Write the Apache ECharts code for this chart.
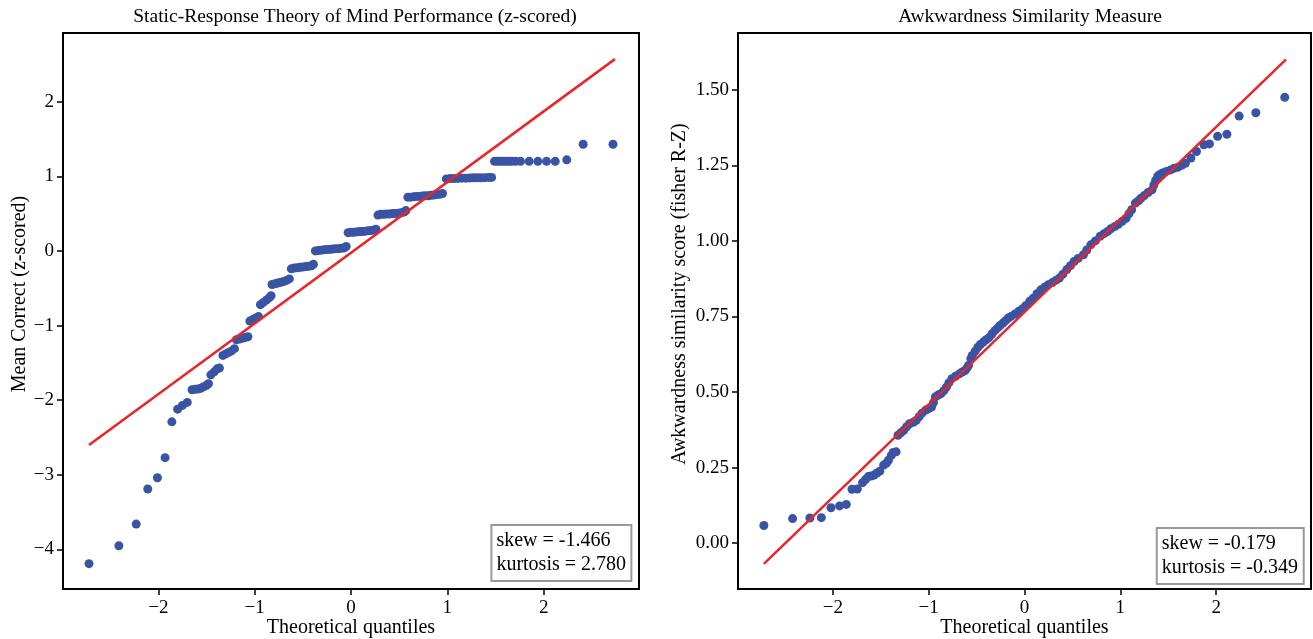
<!DOCTYPE html>
<html lang="en">
<head>
  <meta charset="UTF-8">
  <title>Q-Q plots</title>
  <style>
    body { margin: 0; background: #fff; }
    #chart { width: 1313px; height: 639px; }
  </style>
  <script src="https://cdn.jsdelivr.net/npm/echarts@6/dist/echarts.min.js"></script>
</head>
<body>
  <div id="chart"></div>
  <script>
    // Left panel: ToM z-scores (theoretical quantile, sample value)
    var tomX = [
      -2.72, -2.41, -2.23, -2.11, -2.01, -1.93, -1.86, -1.80, -1.75, -1.70,
      -1.65, -1.62, -1.59, -1.56, -1.53, -1.50, -1.48,
      -1.455, -1.42, -1.39, -1.366,
      -1.33, -1.30, -1.27, -1.24, -1.21,
      -1.19, -1.16, -1.13, -1.10, -1.07,
      -1.05, -1.02, -0.99, -0.96,
      -0.94, -0.91, -0.88, -0.85, -0.83,
      -0.82, -0.79, -0.76, -0.73, -0.70, -0.67, -0.64,
      -0.62, -0.59, -0.56, -0.53, -0.50, -0.47, -0.44, -0.41, -0.39,
      -0.37, -0.34, -0.31, -0.28, -0.25, -0.22, -0.19, -0.16, -0.13, -0.10, -0.07, -0.05,
      -0.03, 0.00, 0.03, 0.06, 0.09, 0.12, 0.15, 0.18, 0.21, 0.24, 0.26,
      0.28, 0.31, 0.34, 0.37, 0.40, 0.43, 0.46, 0.49, 0.52, 0.55, 0.57,
      0.59, 0.62, 0.65, 0.68, 0.71, 0.74, 0.77, 0.80, 0.83, 0.86, 0.89, 0.92,
      0.95, 0.99, 1.03, 1.07, 1.11, 1.15, 1.19, 1.23, 1.27, 1.31, 1.35, 1.39, 1.43,
      1.46, 1.49, 1.52, 1.55, 1.58, 1.61, 1.64, 1.67, 1.71, 1.76, 1.85, 1.94, 2.03,
      2.12, 2.24, 2.41, 2.72
    ];
    var tomY = [
      -4.19, -3.95, -3.66, -3.19, -3.04, -2.77, -2.29, -2.12, -2.07, -2.03,
      -1.86, -1.855, -1.85, -1.84, -1.82, -1.80, -1.78,
      -1.66, -1.62, -1.58, -1.57,
      -1.40, -1.38, -1.36, -1.34, -1.31,
      -1.19, -1.18, -1.17, -1.16, -1.15,
      -0.94, -0.92, -0.90, -0.88,
      -0.72, -0.69, -0.66, -0.63, -0.60,
      -0.45, -0.44, -0.43, -0.42, -0.41, -0.395, -0.375,
      -0.24, -0.23, -0.225, -0.22, -0.215, -0.21, -0.205, -0.20, -0.18,
      0.00, 0.005, 0.01, 0.015, 0.02, 0.02, 0.025, 0.03, 0.03, 0.035, 0.04, 0.06,
      0.245, 0.25, 0.25, 0.255, 0.26, 0.26, 0.265, 0.27, 0.275, 0.28, 0.29,
      0.48, 0.49, 0.49, 0.495, 0.495, 0.50, 0.50, 0.505, 0.51, 0.52, 0.54,
      0.72, 0.72, 0.725, 0.73, 0.73, 0.735, 0.74, 0.74, 0.745, 0.75, 0.755, 0.76, 0.77,
      0.965, 0.97, 0.97, 0.972, 0.975, 0.975, 0.977, 0.98, 0.98, 0.98, 0.982, 0.985, 0.985,
      1.20, 1.20, 1.20, 1.20, 1.20, 1.20, 1.20, 1.20, 1.20, 1.20, 1.20, 1.20, 1.20,
      1.22, 1.43, 1.43, 1.43
    ];
    var tomFitX = [-2.72, 2.74];
    var tomFitY = [-2.60, 2.57];

    // Right panel: awkwardness similarity (fisher R-Z)
    var awkX = [
      -2.72, -2.42, -2.24, -2.12, -2.02, -1.93, -1.86, -1.80, -1.745, -1.69,
      -1.66, -1.63, -1.60, -1.57, -1.54, -1.51, -1.47, -1.44, -1.42, -1.39,
      -1.37, -1.34, -1.32, -1.29, -1.26, -1.23, -1.20, -1.16, -1.13, -1.10,
      -1.07, -1.03, -1.00, -0.97, -0.95, -0.93, -0.90, -0.87, -0.84, -0.816,
      -0.79, -0.758, -0.72, -0.68, -0.65, -0.62, -0.60, -0.584, -0.56, -0.545,
      -0.515, -0.487, -0.46, -0.43, -0.40, -0.37, -0.34, -0.31, -0.28, -0.255,
      -0.225, -0.197, -0.17, -0.14, -0.10, -0.06, -0.023, 0.01, 0.054, 0.09,
      0.13, 0.17, 0.21, 0.248, 0.29, 0.33, 0.364, 0.40, 0.441, 0.48,
      0.518, 0.56, 0.615, 0.65, 0.692, 0.74, 0.789, 0.83, 0.867, 0.90,
      0.944, 0.98, 1.02, 1.06, 1.09, 1.118, 1.157, 1.19, 1.215, 1.25,
      1.29, 1.331, 1.35, 1.369, 1.39, 1.408, 1.44, 1.48, 1.524, 1.56,
      1.602, 1.64, 1.679, 1.737, 1.795, 1.872, 1.93, 2.015, 2.112, 2.24,
      2.414, 2.716
    ];
    var awkY = [
      0.058, 0.081, 0.083, 0.084, 0.117, 0.123, 0.128, 0.178, 0.179, 0.20,
      0.21, 0.22, 0.222, 0.225, 0.232, 0.238, 0.258, 0.265, 0.274, 0.29,
      0.30, 0.302, 0.357, 0.365, 0.373, 0.385, 0.395, 0.40, 0.406, 0.418,
      0.43, 0.44, 0.445, 0.45, 0.465, 0.484, 0.49, 0.495, 0.505, 0.516,
      0.53, 0.544, 0.552, 0.56, 0.566, 0.571, 0.58, 0.588, 0.61, 0.621,
      0.635, 0.648, 0.657, 0.665, 0.673, 0.68, 0.692, 0.703, 0.712, 0.72,
      0.728, 0.736, 0.745, 0.75, 0.758, 0.767, 0.775, 0.785, 0.80, 0.81,
      0.825, 0.838, 0.847, 0.855, 0.862, 0.87, 0.877, 0.89, 0.905, 0.918,
      0.932, 0.942, 0.954, 0.97, 0.987, 1.00, 1.015, 1.024, 1.031, 1.04,
      1.048, 1.055, 1.065, 1.075, 1.09, 1.103, 1.125, 1.133, 1.141, 1.15,
      1.16, 1.169, 1.185, 1.20, 1.213, 1.219, 1.225, 1.23, 1.235, 1.24,
      1.244, 1.25, 1.257, 1.274, 1.296, 1.318, 1.321, 1.346, 1.353, 1.413,
      1.424, 1.475
    ];
    var awkFitX = [-2.72, 2.73];
    var awkFitY = [-0.069, 1.601];

    var xTicks = [-2, -1, 0, 1, 2];
    var tomYTicks = [-4, -3, -2, -1, 0, 1, 2];
    var awkYTicks = [0, 0.25, 0.5, 0.75, 1.0, 1.25, 1.5];

    var tomStats = 'skew = -1.466\nkurtosis = 2.780';
    var awkStats = 'skew = -0.179\nkurtosis = -0.349';

    function pairs(xs, ys) {
      var out = [];
      for (var i = 0; i < xs.length; i++) out.push([xs[i], ys[i]]);
      return out;
    }
    function minus(v) {
      return (v < 0 ? '\u2212' : '') + Math.abs(v);
    }

    var FONT = 'Liberation Serif';
    var BLUE = '#3a54a4';
    var RED = '#e8262a';
    var TICK = { show: true, length: 6, lineStyle: { color: '#000', width: 1.5 } };

    function xAxisFor(gridIndex) {
      return {
        type: 'value', gridIndex: gridIndex,
        min: -2.99, max: 2.99,
        name: 'Theoretical quantiles', nameLocation: 'middle', nameGap: 29, nameMoveOverlap: false,
        nameTextStyle: { fontFamily: FONT, fontSize: 20, color: '#000' },
        axisLine: { show: false, onZero: false },
        axisTick: Object.assign({ customValues: xTicks }, TICK),
        axisLabel: { customValues: xTicks, margin: 10, fontFamily: FONT, fontSize: 19, color: '#000', formatter: minus },
        splitLine: { show: false }
      };
    }

    document.addEventListener('DOMContentLoaded', function() {
      var chart = echarts.init(document.getElementById('chart'));
      chart.setOption({
        animation: false,
        title: [
          {
            text: 'Static-Response Theory of Mind Performance (z-scored)',
            left: 350, top: 2, textAlign: 'center',
            textStyle: { fontFamily: FONT, fontSize: 19.5, fontWeight: 'normal', color: '#000' }
          },
          {
            text: 'Awkwardness Similarity Measure',
            left: 1025, top: 2, textAlign: 'center',
            textStyle: { fontFamily: FONT, fontSize: 19.5, fontWeight: 'normal', color: '#000' }
          },
          {
            text: tomStats, right: 681, bottom: 58,
            backgroundColor: '#fff', borderColor: '#999', borderWidth: 2,
            padding: [4, 6, 4, 5],
            textStyle: { fontFamily: FONT, fontSize: 20, fontWeight: 'normal', color: '#000', lineHeight: 24 }
          },
          {
            text: awkStats, right: 9, bottom: 55,
            backgroundColor: '#fff', borderColor: '#999', borderWidth: 2,
            padding: [4, 6, 4, 5],
            textStyle: { fontFamily: FONT, fontSize: 20, fontWeight: 'normal', color: '#000', lineHeight: 24 }
          }
        ],
        grid: [
          { left: 63, top: 33, width: 576, height: 556, outerBoundsMode: 'none', show: true, borderColor: '#000', borderWidth: 2 },
          { left: 738, top: 33, width: 573, height: 556, outerBoundsMode: 'none', show: true, borderColor: '#000', borderWidth: 2 }
        ],
        xAxis: [xAxisFor(0), xAxisFor(1)],
        yAxis: [
          {
            type: 'value', gridIndex: 0, min: -4.53, max: 2.92,
            name: 'Mean Correct (z-scored)', nameLocation: 'middle', nameGap: 33, nameMoveOverlap: false,
            nameTextStyle: { fontFamily: FONT, fontSize: 20, color: '#000', padding: [0, 0, 0, 34] },
            axisLine: { show: false, onZero: false },
            axisTick: Object.assign({ customValues: tomYTicks }, TICK),
            axisLabel: { customValues: tomYTicks, margin: 9, fontFamily: FONT, fontSize: 19, color: '#000', formatter: minus },
            splitLine: { show: false }
          },
          {
            type: 'value', gridIndex: 1, min: -0.152, max: 1.688,
            name: 'Awkwardness similarity score (fisher R-Z)', nameLocation: 'middle', nameGap: 48, nameMoveOverlap: false,
            nameTextStyle: { fontFamily: FONT, fontSize: 20, color: '#000', padding: [0, 0, 0, 34] },
            axisLine: { show: false, onZero: false },
            axisTick: Object.assign({ customValues: awkYTicks }, TICK),
            axisLabel: {
              customValues: awkYTicks, margin: 9, fontFamily: FONT, fontSize: 19, color: '#000',
              formatter: function(v) { return v.toFixed(2); }
            },
            splitLine: { show: false }
          }
        ],
        series: [
          {
            type: 'scatter', xAxisIndex: 0, yAxisIndex: 0,
            symbolSize: 9, itemStyle: { color: BLUE, opacity: 1 },
            data: pairs(tomX, tomY), z: 2
          },
          {
            type: 'line', xAxisIndex: 0, yAxisIndex: 0, showSymbol: false,
            lineStyle: { color: RED, width: 2.5 },
            data: pairs(tomFitX, tomFitY), z: 3
          },
          {
            type: 'scatter', xAxisIndex: 1, yAxisIndex: 1,
            symbolSize: 9, itemStyle: { color: BLUE, opacity: 1 },
            data: pairs(awkX, awkY), z: 2
          },
          {
            type: 'line', xAxisIndex: 1, yAxisIndex: 1, showSymbol: false,
            lineStyle: { color: RED, width: 2.5 },
            data: pairs(awkFitX, awkFitY), z: 3
          }
        ]
      });

      window.addEventListener('resize', function() {
        chart.resize();
      });
    });
  </script>
</body>
</html>
